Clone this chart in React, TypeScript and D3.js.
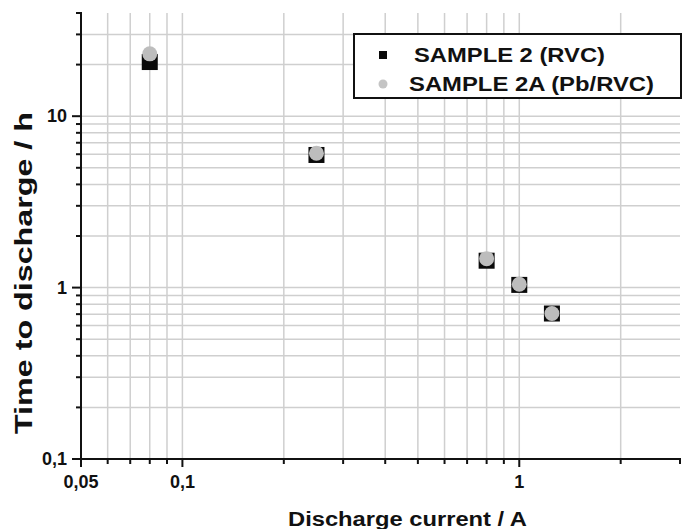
import React, { useRef, useEffect } from 'react';
import { select, scaleLog } from 'd3';

const currents = [0.08, 0.25, 0.8, 1.0, 1.25];
const sample2 = [20.7, 5.94, 1.435, 1.037, 0.706];
const sample2A = [23.1, 6.08, 1.475, 1.047, 0.706];

const seriesNames = ['SAMPLE 2 (RVC)', 'SAMPLE 2A (Pb/RVC)'];

const xMajor = [0.05, 0.1, 1];
const xLabels = ['0,05', '0,1', '1'];
const yMajor = [0.1, 1, 10];
const yLabels = ['0,1', '1', '10'];

const W = 686;
const H = 529;
const FONT = 'Liberation Sans, Arial, sans-serif';

const App = () => {
  const svgRef = useRef(null);

  useEffect(() => {
    const svg = select(svgRef.current);
    svg.selectAll('*').remove();

    const left = 81;
    const right = 680;
    const top = 13;
    const bottom = 459;

    const xScale = scaleLog().domain([0.05, 3]).range([left, right]);
    const yScale = scaleLog().domain([0.1, 40]).range([bottom, top]);

    const xTicks = xScale.ticks();
    const yTicks = yScale.ticks();

    svg.append('rect').attr('width', W).attr('height', H).attr('fill', '#fff');

    // grid
    const grid = svg.append('g').attr('stroke', '#cfcfcf').attr('stroke-width', 1.5);
    grid
      .selectAll('.vx')
      .data(xTicks.filter(t => t > 0.05 + 1e-9 && t < 3 - 1e-9))
      .join('line')
      .attr('x1', d => xScale(d))
      .attr('x2', d => xScale(d))
      .attr('y1', top)
      .attr('y2', bottom);
    grid
      .selectAll('.hy')
      .data(yTicks.filter(t => t > 0.1 + 1e-9 && t < 40 - 1e-9))
      .join('line')
      .attr('x1', left)
      .attr('x2', right)
      .attr('y1', d => yScale(d))
      .attr('y2', d => yScale(d));

    // axes
    const axes = svg.append('g').attr('stroke', '#111').attr('stroke-width', 2);
    axes.append('line').attr('x1', left).attr('x2', right + 1).attr('y1', bottom).attr('y2', bottom);
    axes.append('line').attr('x1', left).attr('x2', left).attr('y1', top - 1).attr('y2', bottom);

    const isMajor = (arr, t) => arr.some(m => Math.abs(m - t) / m < 1e-6);

    axes
      .selectAll('.xt')
      .data(xTicks)
      .join('line')
      .attr('x1', d => xScale(d))
      .attr('x2', d => xScale(d))
      .attr('y1', bottom)
      .attr('y2', d => bottom + (isMajor(xMajor, d) ? 8 : 5));
    axes
      .selectAll('.yt')
      .data(yTicks)
      .join('line')
      .attr('x1', d => left - (isMajor(yMajor, d) ? 9 : 5))
      .attr('x2', left)
      .attr('y1', d => yScale(d))
      .attr('y2', d => yScale(d));

    const labels = svg
      .append('g')
      .attr('font-family', FONT)
      .attr('font-weight', 'bold')
      .attr('font-size', 18)
      .attr('fill', '#111');
    labels
      .selectAll('.xl')
      .data(xMajor)
      .join('text')
      .attr('x', d => xScale(d))
      .attr('y', 488)
      .attr('text-anchor', 'middle')
      .text((d, i) => xLabels[i]);
    labels
      .selectAll('.yl')
      .data(yMajor)
      .join('text')
      .attr('x', 67)
      .attr('y', d => yScale(d) + 6)
      .attr('text-anchor', 'end')
      .text((d, i) => yLabels[i]);

    // axis titles
    svg
      .append('text')
      .attr('x', 288)
      .attr('y', 526)
      .attr('font-family', FONT)
      .attr('font-weight', 'bold')
      .attr('font-size', 20)
      .attr('textLength', 239)
      .attr('lengthAdjust', 'spacingAndGlyphs')
      .attr('fill', '#111')
      .text('Discharge current / A');
    svg
      .append('text')
      .attr('transform', 'translate(32, 434) rotate(-90)')
      .attr('font-family', FONT)
      .attr('font-weight', 'bold')
      .attr('font-size', 23)
      .attr('textLength', 322)
      .attr('lengthAdjust', 'spacingAndGlyphs')
      .attr('fill', '#111')
      .text('Time to discharge / h');

    // points
    const sq = 16;
    svg
      .append('g')
      .selectAll('rect')
      .data(currents.map((c, i) => [c, sample2[i]]))
      .join('rect')
      .attr('x', d => xScale(d[0]) - sq / 2)
      .attr('y', d => yScale(d[1]) - sq / 2)
      .attr('width', sq)
      .attr('height', sq)
      .attr('fill', '#0a0a0a');
    svg
      .append('g')
      .selectAll('circle')
      .data(currents.map((c, i) => [c, sample2A[i]]))
      .join('circle')
      .attr('cx', d => xScale(d[0]))
      .attr('cy', d => yScale(d[1]))
      .attr('r', 7.5)
      .attr('fill', '#bdbdbd');

    // legend
    const lg = svg.append('g');
    lg.append('rect')
      .attr('x', 354)
      .attr('y', 34)
      .attr('width', 327)
      .attr('height', 64)
      .attr('fill', '#fff')
      .attr('stroke', '#111')
      .attr('stroke-width', 2);
    lg.append('rect').attr('x', 379).attr('y', 51).attr('width', 8).attr('height', 8).attr('fill', '#0a0a0a');
    lg.append('circle').attr('cx', 383).attr('cy', 84).attr('r', 4.5).attr('fill', '#c4c4c4');
    const lgText = lg
      .append('g')
      .attr('font-family', FONT)
      .attr('font-weight', 'bold')
      .attr('font-size', 20)
      .attr('fill', '#111');
    lgText
      .append('text')
      .attr('x', 414)
      .attr('y', 62)
      .attr('textLength', 191)
      .attr('lengthAdjust', 'spacingAndGlyphs')
      .text(seriesNames[0]);
    lgText
      .append('text')
      .attr('x', 409)
      .attr('y', 90.5)
      .attr('textLength', 245)
      .attr('lengthAdjust', 'spacingAndGlyphs')
      .text(seriesNames[1]);
  }, []);

  return (
    <svg
      ref={svgRef}
      width={W}
      height={H}
      style={{ position: 'absolute', left: 0, top: 0 }}
    />
  );
};

export default App;
